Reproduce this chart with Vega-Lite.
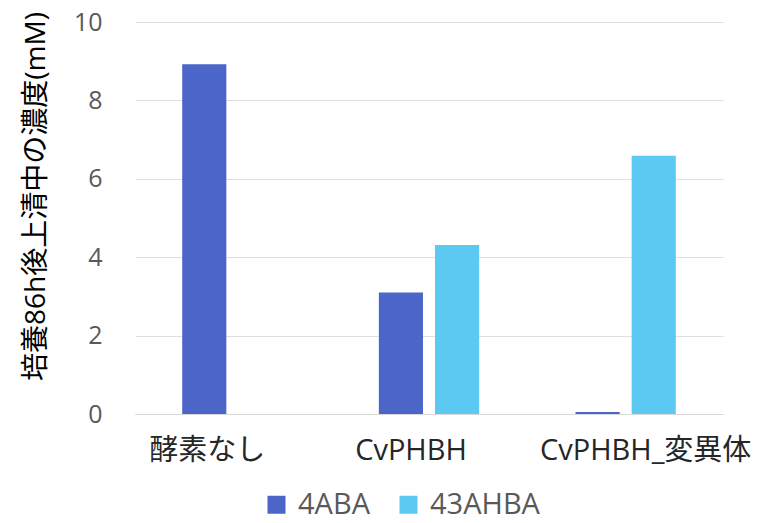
{
  "$schema": "https://vega.github.io/schema/vega-lite/v6.json",
  "autosize": {"type": "none"},
  "width": 588,
  "height": 392,
  "padding": {"left": 135, "top": 22, "right": 44, "bottom": 109},
  "background": "white",
  "config": {
    "font": "Open Sans, Noto Sans CJK JP",
    "view": {"stroke": null}
  },
  "data": {
    "values": [
      {"group": "酵素なし", "series": "4ABA", "value": 8.92},
      {"group": "酵素なし", "series": "43AHBA", "value": 0},
      {"group": "CvPHBH", "series": "4ABA", "value": 3.1},
      {"group": "CvPHBH", "series": "43AHBA", "value": 4.31},
      {"group": "CvPHBH_変異体", "series": "4ABA", "value": 0.05},
      {"group": "CvPHBH_変異体", "series": "43AHBA", "value": 6.59}
    ]
  },
  "mark": {"type": "bar"},
  "encoding": {
    "x": {
      "field": "group",
      "type": "nominal",
      "sort": ["酵素なし", "CvPHBH", "CvPHBH_変異体"],
      "scale": {"paddingInner": 0.49, "paddingOuter": 0.24},
      "axis": {
        "title": null,
        "labelAngle": 0,
        "labelFont": "Open Sans, Noto Sans CJK JP",
        "labelFontSize": 29,
        "labelColor": "#262626",
        "labelPadding": 22,
        "labelOffset": {"expr": "datum.value === '酵素なし' ? -25 : datum.value === 'CvPHBH' ? -18 : 20"},
        "ticks": false,
        "domain": true,
        "domainColor": "#d9d9d9",
        "labelLimit": 400
      }
    },
    "xOffset": {
      "field": "series",
      "type": "nominal",
      "sort": ["4ABA", "43AHBA"],
      "scale": {"paddingInner": 0.214, "paddingOuter": 0}
    },
    "y": {
      "field": "value",
      "type": "quantitative",
      "scale": {"domain": [0, 10], "nice": false},
      "axis": {
        "values": [0, 2, 4, 6, 8, 10],
        "title": "培養86h後上清中の濃度(mM)",
        "titleFont": "Open Sans, Noto Sans CJK JP",
        "titleFontSize": 28,
        "titleFontWeight": "normal",
        "titleColor": "#000000",
        "titleAngle": 270,
        "titleX": -99,
        "titleY": 174,
        "titleAlign": "center",
        "titleBaseline": "middle",
        "labelFont": "Open Sans",
        "labelFontSize": 25,
        "labelColor": "#595959",
        "labelPadding": 33,
        "domain": false,
        "ticks": false,
        "grid": true,
        "gridColor": "#e0e0e0",
        "gridWidth": 1.2
      }
    },
    "color": {
      "field": "series",
      "type": "nominal",
      "sort": ["4ABA", "43AHBA"],
      "scale": {"domain": ["4ABA", "43AHBA"], "range": ["#4B65C9", "#5BC9F1"]},
      "legend": {
        "title": null,
        "orient": "none",
        "direction": "horizontal",
        "legendX": 127,
        "legendY": 468,
        "symbolType": "square",
        "symbolSize": 324,
        "labelFont": "Open Sans",
        "labelFontSize": 29,
        "labelColor": "#595959",
        "labelLimit": 300,
        "columnPadding": 24,
        "labelOffset": 7
      }
    }
  }
}
